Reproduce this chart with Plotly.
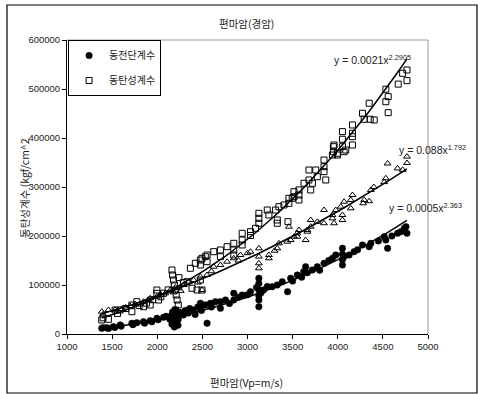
import numpy as np
import plotly.graph_objects as go

# 동전단계수 (circles)
shear_x = [1385, 1400, 1441, 1460, 1513, 1530, 1589, 1600, 1719, 1730, 1774, 1848, 1860, 1922, 1940,
           1996, 2010, 2070, 2100, 2140, 2163, 2163, 2170, 2180, 2190, 2200, 2200, 2210, 2220, 2230,
           2233, 2250, 2290, 2310, 2345, 2360, 2400, 2420, 2450, 2478, 2478, 2490, 2533, 2552, 2589,
           2600, 2644, 2700, 2700, 2756, 2800, 2848, 2848, 2900, 2941, 3000, 3033, 3100, 3126, 3126,
           3126, 3126, 3126, 3126, 3150, 3178, 3220, 3274, 3330, 3385, 3444, 3478, 3500, 3552, 3600,
           3622, 3644, 3663, 3719, 3774, 3800, 3848, 3900, 3941, 3978, 4052, 4052, 4052, 4052, 4070,
           4126, 4181, 4220, 4274, 4348, 4367, 4450, 4515, 4533, 4552, 4600, 4663, 4700, 4737, 4756,
           4767]
shear_y = [11600, 13000, 12900, 11000, 15000, 13500, 18400, 16000, 21800, 19000, 23100, 25100, 22000,
           27200, 25000, 32000, 29000, 34000, 36000, 30000, 38800, 20000, 45000, 28000, 14300, 49000,
           34000, 24000, 40000, 18000, 30000, 44000, 38800, 48000, 42800, 52000, 49000, 40000, 55000,
           55700, 62700, 48000, 59200, 22000, 62700, 55000, 65900, 65900, 52400, 69400, 62000, 69400,
           83100, 75000, 79600, 80000, 86300, 95000, 113700, 103000, 89800, 78000, 69400, 55700, 84000,
           90000, 97000, 96500, 100000, 106700, 86400, 113700, 108000, 120400, 116000, 127200, 137400,
           125000, 130600, 137400, 130000, 144300, 150000, 154500, 161200, 141000, 152000, 163000,
           175000, 158000, 161200, 168000, 172000, 181700, 178200, 185000, 190000, 198600, 191800,
           174900, 200000, 205500, 208800, 215600, 219000, 205500]

# 동탄성계수 (squares)
elast_x = [1385, 1400, 1459, 1533, 1560, 1589, 1650, 1719, 1719, 1774, 1800, 1848, 1880, 1922, 1950,
           1996, 1996, 2015, 2040, 2070, 2120, 2163, 2170, 2180, 2190, 2200, 2210, 2220, 2233, 2200,
           2240, 2290, 2330, 2367, 2385, 2422, 2441, 2478, 2478, 2496, 2496, 2478, 2533, 2552, 2552,
           2626, 2700, 2700, 2774, 2848, 2848, 2848, 2941, 2941, 2941, 3033, 3033, 3089, 3126, 3126,
           3126, 3219, 3237, 3311, 3330, 3330, 3348, 3404, 3448, 3459, 3459, 3496, 3515, 3515, 3570,
           3570, 3570, 3626, 3681, 3681, 3700, 3719, 3756, 3774, 3848, 3848, 3848, 3867, 3941, 3952,
           3952, 3959, 3996, 3996, 4052, 4052, 4052, 4070, 4089, 4163, 4163, 4163, 4163, 4274, 4293,
           4348, 4359, 4404, 4533, 4533, 4559, 4559, 4670, 4719, 4767, 4767]
elast_y = [28600, 33000, 30000, 49000, 42000, 49000, 52000, 45500, 59200, 65900, 58000, 55700, 63000,
           59200, 70000, 89800, 83000, 69400, 76000, 83100, 90000, 130600, 120400, 110200, 100000,
           89800, 79600, 69400, 59200, 49000, 115000, 105000, 106700, 134100, 93300, 144300, 89800,
           151000, 110200, 89800, 154500, 140800, 157800, 161200, 147600, 168000, 171400, 157800,
           178200, 185100, 171400, 161200, 205500, 191800, 181700, 208800, 201000, 215700, 246300,
           236100, 226000, 253000, 242900, 253000, 232700, 226000, 259800, 263300, 229200, 277000,
           266700, 277000, 280200, 290400, 283700, 294000, 273500, 307600, 334700, 314300, 294000,
           307600, 334700, 321000, 355100, 341500, 331300, 314300, 365300, 382300, 372000, 385700,
           365300, 368800, 413000, 397400, 382300, 372000, 375500, 426600, 409600, 385700, 402700,
           450500, 438200, 471000, 438200, 436800, 499500, 474000, 484400, 451700, 510000, 532000,
           538800, 517000]

# third series (triangles)
tri_x = [1385, 1400, 1459, 1533, 1607, 1650, 1700, 1756, 1800, 1848, 1900, 1922, 1996, 2040, 2089,
         2144, 2180, 2200, 2237, 2260, 2293, 2348, 2404, 2450, 2478, 2496, 2552, 2600, 2626, 2700,
         2774, 2848, 2900, 2922, 3000, 3033, 3126, 3126, 3126, 3126, 3237, 3237, 3300, 3330, 3348,
         3441, 3459, 3478, 3515, 3552, 3552, 3570, 3644, 3663, 3663, 3700, 3700, 3774, 3848, 3848,
         3941, 3941, 3959, 3978, 4033, 4052, 4052, 4070, 4144, 4144, 4163, 4281, 4293, 4348, 4367,
         4400, 4515, 4533, 4552, 4663, 4719, 4767, 4767]
tri_y = [45500, 40000, 49000, 49500, 51000, 54000, 57100, 61200, 60000, 65900, 70000, 72900, 76100,
         80000, 83100, 89800, 85000, 95000, 93300, 88000, 100000, 106700, 110200, 105000, 117000,
         89800, 120400, 128000, 137400, 140800, 147600, 154500, 150000, 161200, 165000, 168000,
         174900, 158000, 144300, 134100, 154500, 161200, 170000, 174900, 185100, 188400, 219000,
         191800, 198600, 198600, 205500, 212300, 191800, 212300, 208800, 232700, 219000, 229000,
         226000, 253000, 236000, 242900, 226000, 253000, 259800, 242900, 232700, 270000, 273500,
         256500, 283700, 266700, 273500, 271000, 294000, 300000, 310000, 317800, 348000, 338000,
         335000, 349000, 362000]

x_ticks = [1000, 1500, 2000, 2500, 3000, 3500, 4000, 4500, 5000]
y_ticks = [0, 100000, 200000, 300000, 400000, 500000, 600000]

FONT = "Liberation Sans, Arial, sans-serif"
KFONT = "Noto Sans CJK KR, sans-serif"
TXT = "#222222"


def power_fit(xs, ys):
    xs = np.asarray(xs, float)
    ys = np.asarray(ys, float)
    b, lna = np.polyfit(np.log(xs), np.log(ys), 1)
    gx = np.linspace(xs.min(), xs.max(), 60)
    return gx, np.exp(lna) * gx ** b


fig = go.Figure()

fig.add_trace(go.Scatter(x=shear_x, y=shear_y, mode="markers", name="동전단계수",
                         legendgroup="a",
                         marker=dict(symbol="circle", size=6.5, color="black",
                                     line=dict(color="black", width=0.5))))
fig.add_trace(go.Scatter(x=elast_x, y=elast_y, mode="markers", name="동탄성계수",
                         legendgroup="b",
                         marker=dict(symbol="square-open", size=6, color="black",
                                     line=dict(color="black", width=1))))
fig.add_trace(go.Scatter(x=tri_x, y=tri_y, mode="markers", name="tri", showlegend=False,
                         legendgroup="c",
                         marker=dict(symbol="triangle-up-open", size=6, color="black",
                                     line=dict(color="black", width=1))))

for xs, ys in [(shear_x, shear_y), (elast_x, elast_y), (tri_x, tri_y)]:
    gx, gy = power_fit(xs, ys)
    fig.add_trace(go.Scatter(x=gx, y=gy, mode="lines", showlegend=False, legendgroup="c",
                             line=dict(color="black", width=1.5), hoverinfo="skip"))

W, H = 478, 394
L, R, T, B = 67, 50, 40, 60
pw, ph = W - L - R, H - T - B


def fx(xp):
    return (xp - L) / pw


def fy(yp):
    return (H - B - yp) / ph


# outer frame
fig.add_shape(type="rect", xref="paper", yref="paper", x0=fx(7), x1=fx(477), y0=fy(393), y1=fy(5),
              line=dict(color="black", width=1.2), fillcolor="rgba(0,0,0,0)")
# top and right plot-area edges (gray)
fig.add_shape(type="line", xref="paper", yref="paper", x0=0, x1=1, y0=1, y1=1,
              line=dict(color="#9a9a9a", width=1))
fig.add_shape(type="line", xref="paper", yref="paper", x0=1, x1=1, y0=0, y1=1,
              line=dict(color="#9a9a9a", width=1))

annotations = [
    dict(text="편마암(경암)", xref="paper", yref="paper", x=fx(246), y=fy(24), showarrow=False,
         xanchor="center", yanchor="middle",
         font=dict(family=KFONT, size=10.5, color=TXT)),
    dict(text="편마암(Vp=m/s)", xref="paper", yref="paper", x=fx(246), y=fy(382), showarrow=False,
         xanchor="center", yanchor="middle",
         font=dict(family=KFONT, size=10.5, color=TXT)),
    dict(text="동탄성계수 (kgf/cm^2", xref="paper", yref="paper", x=fx(24), y=fy(188),
         xanchor="center", yanchor="middle",
         showarrow=False, textangle=-90, font=dict(family=KFONT, size=10.5, color=TXT)),
    dict(text="y = 0.0021x<sup>2.2905</sup>", xref="paper", yref="paper", x=fx(332), y=fy(60),
         xanchor="left", yanchor="middle", showarrow=False,
         font=dict(family=FONT, size=10.5, color=TXT)),
    dict(text="y = 0.088x<sup>1.792</sup>", xref="paper", yref="paper", x=fx(397), y=fy(149),
         xanchor="left", yanchor="middle", showarrow=False,
         font=dict(family=FONT, size=10.5, color=TXT)),
    dict(text="y = 0.0005x<sup>2.363</sup>", xref="paper", yref="paper", x=fx(387), y=fy(207),
         xanchor="left", yanchor="middle", showarrow=False,
         font=dict(family=FONT, size=10.5, color=TXT)),
]

fig.update_layout(
    width=W, height=H,
    autosize=False,
    margin=dict(l=L, r=R, t=T, b=B, pad=0),
    paper_bgcolor="white", plot_bgcolor="white",
    showlegend=True,
    legend=dict(x=0.003, y=1.0, xanchor="left", yanchor="top",
                bordercolor="black", borderwidth=1, bgcolor="white",
                font=dict(family=KFONT, size=10, color=TXT),
                tracegroupgap=6, itemwidth=30),
    annotations=annotations,
    xaxis=dict(range=[1000, 5000], tickvals=x_ticks, ticktext=[str(v) for v in x_ticks],
               showgrid=False, zeroline=False, showline=True, linecolor="black", linewidth=1,
               ticks="outside", ticklen=4, tickcolor="black",
               tickfont=dict(family=FONT, size=9.5, color=TXT)),
    yaxis=dict(range=[0, 600000], tickvals=y_ticks, ticktext=[str(v) for v in y_ticks],
               showgrid=False, zeroline=False, showline=True, linecolor="black", linewidth=1,
               ticks="outside", ticklen=4, tickcolor="black",
               tickfont=dict(family=FONT, size=9.5, color=TXT)),
)

fig.write_html("out.html", config={"displayModeBar": False},
               post_script="document.body.style.margin='0';document.body.style.overflow='hidden';")
